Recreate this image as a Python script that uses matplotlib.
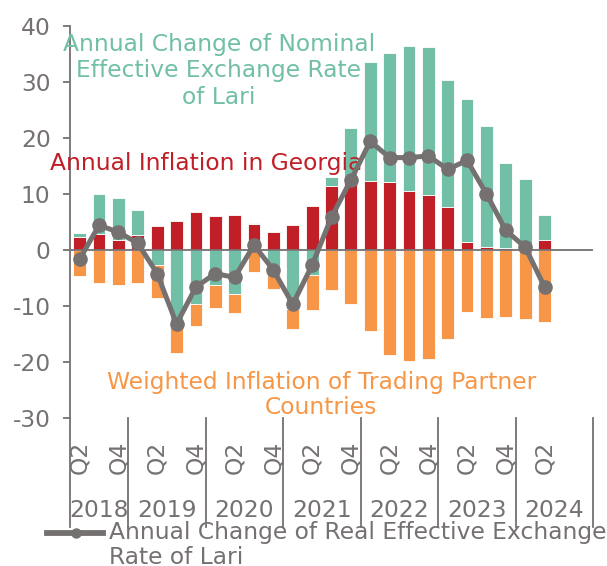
import matplotlib
matplotlib.use("Agg")
import matplotlib.pyplot as plt
import matplotlib.transforms as mtransforms
from matplotlib.lines import Line2D
import numpy as np

plt.rcParams["font.family"] = "DejaVu Sans"
plt.rcParams["axes.unicode_minus"] = False

# data (2018Q2 .. 2024Q2)
quarters = ["Q2", "Q3", "Q4",
            "Q1", "Q2", "Q3", "Q4",
            "Q1", "Q2", "Q3", "Q4",
            "Q1", "Q2", "Q3", "Q4",
            "Q1", "Q2", "Q3", "Q4",
            "Q1", "Q2", "Q3", "Q4",
            "Q1", "Q2"]
years = ["2018", "2019", "2020", "2021", "2022", "2023", "2024"]
year_quarters = [3, 4, 4, 4, 4, 4, 4]  # quarters per year (2024 axis spans 4)

inflation_geo = [2.3, 2.8, 1.8, 2.6, 4.2, 5.1, 6.7, 6.1, 6.3, 4.7, 3.2, 4.4, 7.9,
                 11.5, 12.2, 12.3, 12.2, 10.6, 9.8, 7.6, 1.5, 0.5, 0.4, 0.2, 1.8]
neer = [0.7, 7.2, 7.5, 4.5, -2.7, -13.8, -9.6, -6.3, -7.8, 0.1, -3.5, -10.5, -4.5,
        1.5, 9.6, 21.2, 22.9, 25.9, 26.4, 22.7, 25.4, 21.6, 15.2, 12.5, 4.5]
partner_infl = [-4.7, -5.9, -6.3, -5.9, -5.8, -4.6, -3.9, -4.1, -3.5, -3.9, -3.4, -3.6, -6.2,
                -7.2, -9.6, -14.4, -18.7, -19.9, -19.4, -15.9, -11.0, -12.1, -12.0, -12.3, -12.9]
reer = [-1.6, 4.4, 3.2, 1.2, -4.2, -13.2, -6.6, -4.2, -4.9, 0.9, -3.6, -9.7, -2.7,
        5.9, 12.5, 19.4, 16.5, 16.5, 16.8, 14.4, 16.0, 10.0, 3.5, 0.5, -6.6]

green = "#70bfa6"
red = "#c01f28"
orange = "#f79646"
gray = "#767171"
fs = 16.8

x = np.arange(len(quarters))
infl = np.array(inflation_geo)
ne = np.array(neer)
pi = np.array(partner_infl)

fig = plt.figure(figsize=(6.07, 5.66), dpi=100)
ax = fig.add_axes([70 / 607, 1 - 418 / 566, 523 / 607, 392 / 566])

w = 0.66
ax.bar(x, infl, w, color=red, edgecolor="white", linewidth=0.6, zorder=2)
ne_base = np.where(ne > 0, infl, 0)
ax.bar(x, ne, w, bottom=ne_base, color=green, edgecolor="white", linewidth=0.6, zorder=2)
pi_base = np.minimum(ne, 0)
ax.bar(x, pi, w, bottom=pi_base, color=orange, edgecolor="white", linewidth=0.6, zorder=2)

ax.axhline(0, color=gray, linewidth=1.3, zorder=3)
ax.plot(x, reer, color=gray, linewidth=3.6, marker="o", markersize=9.5, zorder=5)

ax.set_xlim(-0.5, 26.5)
ax.set_ylim(-30, 40)
ax.set_yticks(np.arange(-30, 41, 10))

for s in ["top", "right", "bottom"]:
    ax.spines[s].set_visible(False)
ax.spines["left"].set_color(gray)
ax.spines["left"].set_linewidth(1.3)
ax.tick_params(axis="y", colors=gray, labelsize=fs, length=5, width=1.3, pad=9)

qpos = [i for i, q in enumerate(quarters) if q in ("Q2", "Q4")]
ax.set_xticks(qpos)
ax.set_xticklabels([quarters[i] for i in qpos], rotation=90)
ax.tick_params(axis="x", colors=gray, labelsize=fs, length=0, pad=16)

# year groups and separators
trans = mtransforms.blended_transform_factory(ax.transData, ax.transAxes)
edges = np.concatenate([[-0.5], -0.5 + np.cumsum(year_quarters)])
for e in edges:
    ax.plot([e, e], [0, -0.278], transform=trans, color=gray, linewidth=1.3, clip_on=False)
for i, yr in enumerate(years):
    ax.text((edges[i] + edges[i + 1]) / 2, -0.237, yr, transform=trans, ha="center",
            va="center", fontsize=fs, color=gray)

# series labels
ax.text(7.19, 32.0, "Annual Change of Nominal\nEffective Exchange Rate\nof Lari",
        ha="center", va="center", fontsize=fs, color=green, zorder=4, linespacing=1.18)
ax.text(6.52, 15.5, "Annual Inflation in Georgia", ha="center", va="center",
        fontsize=fs, color=red, zorder=4)
ax.text(12.48, -25.9, "Weighted Inflation of Trading Partner\nCountries",
        ha="center", va="center", fontsize=fs, color=orange, zorder=4, linespacing=1.15)

# legend for the line
ly = 1 - 533 / 566
fig.add_artist(Line2D([47 / 607, 103 / 607], [ly, ly], color=gray, linewidth=4.2))
fig.add_artist(Line2D([76 / 607], [ly], color=gray, marker="o", markersize=6.5))
fig.text(109 / 607, 1 - 521 / 566, "Annual Change of Real Effective Exchange\nRate of Lari",
         ha="left", va="top", fontsize=fs, color=gray, linespacing=1.13)

fig.savefig("out.png", dpi=100)
